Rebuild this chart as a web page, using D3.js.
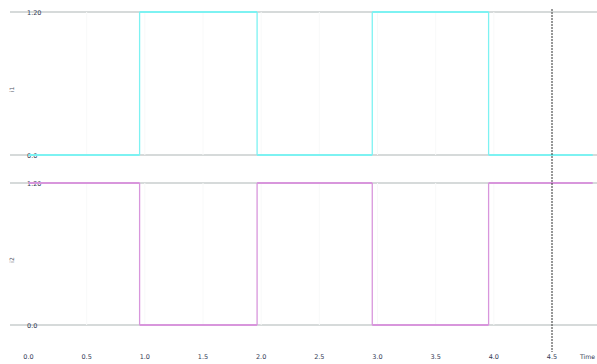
<!DOCTYPE html>
<html>
<head>
<meta charset="utf-8">
<script src="https://cdn.jsdelivr.net/npm/d3@7"></script>
<style>
  body { margin: 0; background: #fff; }
  text { font-family: "DejaVu Sans", sans-serif; }
</style>
</head>
<body>
<svg id="chart"></svg>
<script>
// signal data: step times (s) and levels
const times1 = [0, 0.955, 1.965, 2.955, 3.955, 4.85];
const values1 = [0, 1.2, 0, 1.2, 0, 0];
const times2 = [0, 0.955, 1.965, 2.955, 3.955, 4.85];
const values2 = [1.2, 0, 1.2, 0, 1.2, 1.2];
const xTicks = [0, 0.5, 1, 1.5, 2, 2.5, 3, 3.5, 4, 4.5];
const yTicks = [0, 1.2];
const names = ["i1", "i2"];
const cursorTime = 4.5;

const width = 597, height = 364;
const svg = d3.select("#chart").attr("width", width).attr("height", height);

const x = d3.scaleLinear().domain([0, 4.5]).range([28.5, 552]);

const panels = [
  {top: 12, bottom: 155, times: times1, values: values1, color: "#7df2f2"},
  {top: 183, bottom: 325, times: times2, values: values2, color: "#d896dc"}
];

panels.forEach((p, i) => {
  const y = d3.scaleLinear().domain([0, 1.2]).range([p.bottom, p.top]);

  // grey level lines
  svg.append("g").selectAll("line")
    .data(yTicks)
    .enter().append("line")
    .attr("x1", 10).attr("x2", width)
    .attr("y1", d => y(d)).attr("y2", d => y(d))
    .attr("stroke", "#d6dada").attr("stroke-width", 2);

  // faint vertical grid
  svg.append("g").selectAll("line")
    .data(xTicks.slice(1))
    .enter().append("line")
    .attr("x1", d => x(d)).attr("x2", d => x(d))
    .attr("y1", p.top).attr("y2", p.bottom)
    .attr("stroke", "#f8f9f9").attr("stroke-width", 1);

  // y tick labels
  svg.append("g").selectAll("text")
    .data(yTicks)
    .enter().append("text")
    .attr("x", 27).attr("y", d => y(d) + 2.5)
    .attr("font-size", 6.5).attr("fill", "#333a55")
    .text(d => d === 0 ? "0.0" : d.toFixed(2));

  // signal: horizontal levels thick, edges thin
  const pts = p.times.map((t, k) => [t, p.values[k]]);
  const levels = pts.slice(0, -1).map((d, k) => [d, [pts[k + 1][0], d[1]]]);
  const edges = pts.slice(1, -1).map((d, k) => [[d[0], pts[k][1]], d]);
  const line = d3.line().x(d => x(d[0])).y(d => y(d[1]));

  svg.append("g").selectAll("path")
    .data(edges)
    .enter().append("path")
    .attr("fill", "none")
    .attr("stroke", p.color)
    .attr("stroke-width", 1.3)
    .attr("d", line);

  svg.append("g").selectAll("path")
    .data(levels)
    .enter().append("path")
    .attr("fill", "none")
    .attr("stroke", p.color)
    .attr("stroke-width", 2)
    .attr("d", line);

  // signal name
  svg.append("text")
    .attr("transform", `translate(14,${(p.top + p.bottom) / 2 + 6}) rotate(-90)`)
    .attr("font-size", 6).attr("fill", "#556")
    .attr("text-anchor", "middle")
    .text(names[i]);
});

// x axis labels
svg.append("g").selectAll("text")
  .data(xTicks)
  .enter().append("text")
  .attr("x", d => x(d)).attr("y", 359)
  .attr("text-anchor", "middle")
  .attr("font-size", 6.5).attr("fill", "#333a55")
  .text(d => d.toFixed(1));

svg.append("text")
  .attr("x", 580).attr("y", 359)
  .attr("font-size", 6.2).attr("fill", "#333a55")
  .text("Time");

// cursor
svg.append("line")
  .attr("x1", x(cursorTime)).attr("x2", x(cursorTime))
  .attr("y1", 9).attr("y2", 352)
  .attr("stroke", "#333").attr("stroke-width", 1)
  .attr("stroke-dasharray", "2,1");
</script>
</body>
</html>
